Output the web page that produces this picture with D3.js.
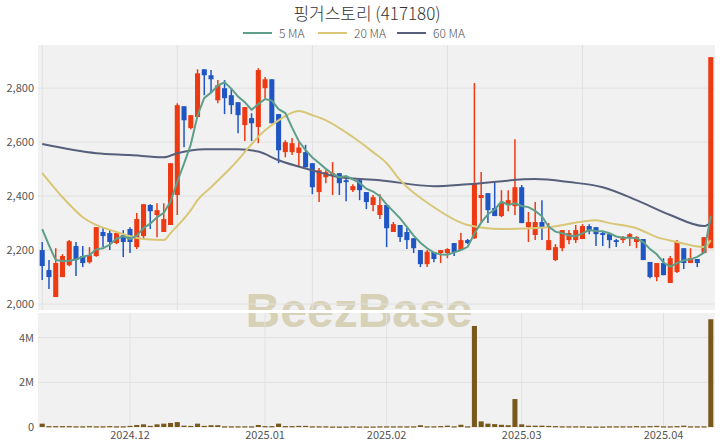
<!DOCTYPE html>
<html><head><meta charset="utf-8">
<script src="https://cdn.jsdelivr.net/npm/d3@7/dist/d3.min.js"></script>
<style>body{margin:0;background:#fff}svg{display:block}</style>
</head><body><svg id="c" width="720" height="448"></svg>
<script>
const title = "핑거스토리 (417180)";
const dates = [
"2024-11-13","2024-11-14","2024-11-15","2024-11-18","2024-11-19","2024-11-20","2024-11-21","2024-11-22","2024-11-25","2024-11-26","2024-11-27","2024-11-28","2024-11-29",
"2024-12-02","2024-12-03","2024-12-04","2024-12-05","2024-12-06","2024-12-09","2024-12-10","2024-12-11","2024-12-12","2024-12-13","2024-12-16","2024-12-17","2024-12-18","2024-12-19","2024-12-20","2024-12-23","2024-12-24","2024-12-26","2024-12-27","2024-12-30",
"2025-01-02","2025-01-03","2025-01-06","2025-01-07","2025-01-08","2025-01-09","2025-01-10","2025-01-13","2025-01-14","2025-01-15","2025-01-16","2025-01-17","2025-01-20","2025-01-21","2025-01-22","2025-01-23","2025-01-24","2025-01-31",
"2025-02-03","2025-02-04","2025-02-05","2025-02-06","2025-02-07","2025-02-10","2025-02-11","2025-02-12","2025-02-13","2025-02-14","2025-02-17","2025-02-18","2025-02-19","2025-02-20","2025-02-21","2025-02-24","2025-02-25","2025-02-26","2025-02-27","2025-02-28",
"2025-03-03","2025-03-04","2025-03-05","2025-03-06","2025-03-07","2025-03-10","2025-03-11","2025-03-12","2025-03-13","2025-03-14","2025-03-17","2025-03-18","2025-03-19","2025-03-20","2025-03-21","2025-03-24","2025-03-25","2025-03-26","2025-03-27","2025-03-28","2025-03-31",
"2025-04-01","2025-04-02","2025-04-03","2025-04-04","2025-04-07","2025-04-08","2025-04-09","2025-04-10"];
const open = [2200,2126,2026,2100,2144,2215,2178,2155,2178,2267,2263,2226,2255,2278,2211,2252,2367,2330,2267,2293,
2404,2733,2652,2693,2870,2848,2755,2800,2774,2748,2663,2689,2656,2800,2833,2704,2563,2563,2560,2563,
2522,2415,2470,2478,2485,2459,2422,2459,2415,2367,2330,2367,2267,2293,2267,2244,2200,2148,2193,2189,
2189,2226,2200,2237,2244,2393,2411,2356,2326,2367,2363,2433,2285,2256,2304,2200,2163,2207,2237,2237,
2241,2289,2285,2263,2259,2237,2237,2248,2230,2241,2156,2100,2152,2078,2119,2207,2152,2167,2189,2207];
const high = [2230,2163,2207,2185,2237,2230,2215,2211,2285,2285,2274,2266,2274,2285,2337,2370,2370,2374,2374,2522,
2744,2733,2700,2870,2870,2867,2830,2830,2800,2748,2730,2707,2874,2841,2833,2704,2607,2615,2600,2590,
2522,2504,2496,2526,2485,2467,2444,2467,2415,2404,2407,2367,2304,2293,2285,2244,2200,2200,2193,2200,
2207,2226,2263,2241,2819,2489,2411,2452,2422,2422,2611,2441,2341,2378,2385,2300,2222,2274,2274,2293,
2296,2296,2285,2267,2259,2241,2252,2263,2252,2241,2156,2152,2170,2178,2237,2207,2207,2167,2248,2915];
const low = [2089,2056,2026,2100,2140,2104,2137,2150,2175,2211,2200,2222,2174,2189,2204,2245,2278,2248,2267,2293,
2330,2581,2648,2693,2774,2785,2744,2704,2704,2633,2604,2604,2596,2763,2670,2522,2544,2552,2510,2507,
2407,2378,2448,2404,2404,2381,2415,2385,2352,2344,2315,2211,2267,2230,2204,2189,2137,2137,2155,2152,
2170,2178,2200,2222,2241,2304,2300,2326,2322,2344,2330,2300,2230,2237,2237,2200,2159,2196,2222,2226,
2241,2259,2215,2215,2207,2211,2226,2215,2207,2163,2096,2085,2107,2078,2115,2130,2152,2137,2189,2207];
const close = [2141,2100,2152,2178,2233,2163,2152,2181,2285,2252,2230,2263,2230,2230,2315,2370,2344,2348,2315,2522,
2737,2681,2700,2855,2848,2833,2811,2763,2737,2700,2730,2670,2867,2833,2670,2570,2600,2596,2580,2507,
2433,2496,2489,2485,2448,2452,2437,2422,2378,2396,2367,2281,2296,2248,2237,2207,2148,2194,2167,2200,
2204,2193,2237,2226,2448,2404,2348,2326,2374,2385,2433,2300,2304,2304,2285,2237,2211,2274,2263,2274,
2289,2270,2259,2256,2237,2230,2248,2259,2248,2163,2100,2152,2107,2170,2230,2152,2170,2152,2248,2915];
const volume = [0.15,0.04,0.04,0.04,0.04,0.03,0.03,0.04,0.03,0.03,0.04,0.03,0.03,0.05,0.09,0.12,0.05,0.12,0.15,0.18,
0.22,0.06,0.05,0.15,0.05,0.08,0.08,0.03,0.03,0.03,0.03,0.03,0.09,0.04,0.04,0.15,0.04,0.04,0.05,0.05,
0.03,0.03,0.03,0.02,0.02,0.02,0.03,0.02,0.02,0.02,0.03,0.03,0.03,0.03,0.03,0.03,0.08,0.03,0.03,0.04,
0.06,0.03,0.1,0.03,4.52,0.25,0.15,0.13,0.1,0.08,1.25,0.12,0.06,0.06,0.06,0.05,0.04,0.03,0.03,0.03,
0.03,0.02,0.02,0.02,0.03,0.03,0.03,0.03,0.04,0.03,0.04,0.05,0.03,0.03,0.04,0.06,0.03,0.03,0.03,4.82];
const ma5Head = [2278,2218,2163,2160];
const ma20Idx = [0,3,6,11,15,18,19,22,23,25,28,33,35,38,40,42,46,49,51,53,58,63,68,75,82,84,88,91,94,98,99];
const ma20Val = [2485,2396,2322,2267,2241,2237,2263,2348,2385,2433,2507,2644,2681,2715,2700,2681,2619,2563,2522,2459,2359,2293,2278,2285,2311,2300,2281,2248,2230,2211,2237];
const ma60Idx = [0,8,13,18,20,24,29,32,35,40,44,50,58,63,73,78,83,88,93,98,99];
const ma60Val = [2593,2559,2552,2544,2559,2574,2574,2565,2533,2496,2470,2459,2437,2444,2463,2452,2433,2385,2330,2289,2300];
const priceTicks = [2000,2200,2400,2600,2800];
const volTicks = [0,2e6,4e6];
const legendNames = ["5 MA","20 MA","60 MA"];
const colors = {up:"#ee3a12", down:"#1f56c3", ma5:"#5d9f8a", ma20:"#d8c776", ma60:"#575f7a", vol:"#77591c"};

const svg = d3.select("#c");
const L=38, R=715, pT=45, pB=310, vT=313, vB=427;
const n = dates.length;
const x = d3.scaleBand().domain(dates).range([L,R]).padding(0.25);
const cx = i => x(dates[i]) + x.bandwidth()/2;
const y = d3.scaleLinear().domain([1978,2960]).range([pB,pT]);
const yv = d3.scaleLinear().domain([0,5.1e6]).range([vB,vT]);

// backgrounds
svg.append("rect").attr("x",L).attr("y",pT).attr("width",R-L).attr("height",pB-pT).attr("fill","#f1f1f1");
svg.append("rect").attr("x",L).attr("y",vT).attr("width",R-L).attr("height",vB-vT).attr("fill","#f1f1f1");

// watermark
svg.append("text").attr("x",359).attr("y",327).attr("text-anchor","middle")
  .attr("font-family","Liberation Sans, Arial, sans-serif").attr("font-weight","bold").attr("font-size",48)
  .attr("fill","#d7d1b8").text("BeezBase");
svg.append("rect").attr("x",L).attr("y",pB).attr("width",R-L).attr("height",vT-pB).attr("fill","#fff");

// grids
const gp = svg.append("g");
priceTicks.forEach(t=>gp.append("line").attr("x1",L).attr("x2",R).attr("y1",y(t)).attr("y2",y(t)).attr("stroke","#e1e1e1"));
[0,20,40,60,80].forEach(i=>gp.append("line").attr("x1",cx(i)).attr("x2",cx(i)).attr("y1",pT).attr("y2",pB).attr("stroke","#e1e1e1"));
const monthIdx = dates.map((d,i)=>i).filter(i=>i>0 && dates[i].slice(0,7)!==dates[i-1].slice(0,7));
volTicks.forEach(t=>gp.append("line").attr("x1",L).attr("x2",R).attr("y1",yv(t)).attr("y2",yv(t)).attr("stroke","#e1e1e1"));
monthIdx.forEach(i=>gp.append("line").attr("x1",cx(i)).attr("x2",cx(i)).attr("y1",vT).attr("y2",vB).attr("stroke","#e1e1e1"));

// axes labels
const ya = d3.axisLeft(y).tickValues(priceTicks).tickFormat(d3.format(",")).tickSize(0).tickPadding(4);
const ga = svg.append("g").attr("transform",`translate(${L},0)`).call(ya);
const yva = d3.axisLeft(yv).tickValues(volTicks).tickFormat(d=>d===0?"0":(d/1e6)+"M").tickSize(0).tickPadding(4);
const gva = svg.append("g").attr("transform",`translate(${L},0)`).call(yva);
const xa = d3.axisBottom(x).tickValues(monthIdx.map(i=>dates[i])).tickFormat(d=>d.slice(0,7).replace("-",".")).tickSize(0).tickPadding(4);
const gxa = svg.append("g").attr("transform",`translate(0,${vB})`).call(xa);
[ga,gva,gxa].forEach(g=>{g.select(".domain").remove();g.selectAll("text").attr("fill","#555").attr("font-size",11).attr("font-family","Noto Sans CJK KR, Noto Sans, sans-serif");});

// candles
const cg = svg.append("g");
d3.range(n).forEach(i=>{
  const up = close[i]>=open[i];
  const col = up?colors.up:colors.down;
  cg.append("line").attr("x1",cx(i)).attr("x2",cx(i)).attr("y1",y(high[i])).attr("y2",y(low[i])).attr("stroke",col).attr("stroke-width",1.5);
  const t = y(Math.max(open[i],close[i])), b = y(Math.min(open[i],close[i]));
  cg.append("rect").attr("x",x(dates[i])).attr("width",x.bandwidth()).attr("y",t).attr("height",Math.max(1.5,b-t)).attr("fill",col);
});

// volume
svg.append("g").selectAll("rect").data(volume).join("rect")
  .attr("x",(d,i)=>x(dates[i])).attr("width",x.bandwidth())
  .attr("y",d=>yv(d*1e6)).attr("height",d=>Math.max(1.2,yv(0)-yv(d*1e6))).attr("fill",colors.vol);

// moving averages
const ma5 = d3.range(n).map(i=> i<4 ? ma5Head[i] : d3.mean(close.slice(i-4,i+1)));
const line = d3.line().x(d=>cx(d[0])).y(d=>y(d[1]));
const lineS = d3.line().x(d=>cx(d[0])).y(d=>y(d[1])).curve(d3.curveMonotoneX);
svg.append("path").attr("d",lineS(ma60Idx.map((k,j)=>[k,ma60Val[j]]))).attr("fill","none").attr("stroke",colors.ma60).attr("stroke-width",2);
svg.append("path").attr("d",lineS(ma20Idx.map((k,j)=>[k,ma20Val[j]]))).attr("fill","none").attr("stroke",colors.ma20).attr("stroke-width",2);
svg.append("path").attr("d",line(ma5.map((v,i)=>[i,v]))).attr("fill","none").attr("stroke",colors.ma5).attr("stroke-width",2);

// title & legend
svg.append("text").attr("x",367).attr("y",20).attr("text-anchor","middle").attr("font-size",17).attr("font-weight",300)
  .attr("font-family","Noto Sans CJK KR, sans-serif").attr("fill","#333").text(title);
const lc=[colors.ma5,colors.ma20,colors.ma60], lx=[243,318,397];
legendNames.forEach((nm,k)=>{
  svg.append("line").attr("x1",lx[k]).attr("x2",lx[k]+29).attr("y1",33).attr("y2",33).attr("stroke",lc[k]).attr("stroke-width",2);
  svg.append("text").attr("x",lx[k]+36).attr("y",37.5).attr("font-size",12).attr("font-weight",300).attr("fill","#555")
    .attr("font-family","Noto Sans CJK KR, sans-serif").text(nm);
});
</script></body></html>
